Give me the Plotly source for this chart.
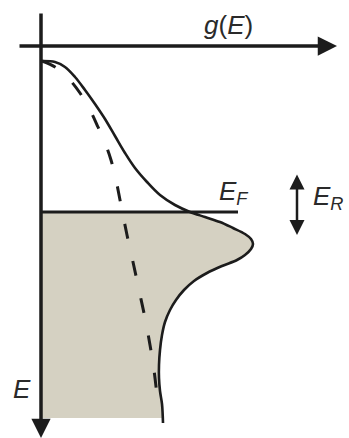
import numpy as np
import plotly.graph_objects as go

# Density of states g(E); energy E increases downward along the vertical axis.
# Interacting (solid) DOS with a resonance just below the Fermi level.
g_solid = [0.01, 0.14, 0.24, 0.34, 0.44, 0.54, 0.64, 0.74, 0.84, 0.94, 1.06,
           1.19, 1.34, 1.49, 1.64, 1.79, 1.92, 2.04, 2.10, 2.12, 2.10, 2.04,
           1.96, 1.81, 1.66, 1.53, 1.43, 1.35, 1.29, 1.24, 1.21, 1.19, 1.18,
           1.18, 1.19, 1.21, 1.22]
E_solid = [0.15, 0.16, 0.21, 0.31, 0.44, 0.58, 0.73, 0.90, 1.07, 1.22, 1.36,
           1.49, 1.59, 1.66, 1.71, 1.76, 1.82, 1.88, 1.93, 1.98, 2.03, 2.09,
           2.14, 2.20, 2.27, 2.35, 2.44, 2.54, 2.64, 2.76, 2.89, 3.04, 3.19,
           3.32, 3.45, 3.58, 3.77]

# Free-electron (dashed) DOS
g_free = [0.01, 0.14, 0.27, 0.39, 0.49, 0.57, 0.64, 0.70, 0.75, 0.80, 0.86, 0.92,
          0.98, 1.04, 1.09, 1.13, 1.17]
E_free = [0.15, 0.21, 0.32, 0.47, 0.64, 0.81, 0.97, 1.14, 1.34, 1.59, 1.89, 2.16,
          2.44, 2.72, 2.99, 3.24, 3.59]

E_fermi = 1.66          # Fermi level
E_fill_bottom = 3.72    # lower edge of the occupied band
g_fermi_end = 1.97      # right end of the E_F line
E_res = [1.27, 1.89]    # extent of the E_R resonance arrow
g_res = 2.56

ink = "#1c1c1c"
fill_col = "#d5d1c2"
font_fam = "Liberation Sans, Arial, sans-serif"

fig = go.Figure()

# Occupied states: area between the E axis and the solid DOS, from E_F down
# to the flat lower edge of the band
Es = np.array(E_solid)
gs = np.array(g_solid)
mask = (Es > E_fermi) & (Es < E_fill_bottom)
E_poly = np.concatenate([[E_fermi], [E_fermi], Es[mask], [E_fill_bottom], [E_fill_bottom]])
g_poly = np.concatenate([[0.0], [np.interp(E_fermi, Es, gs)], gs[mask],
                         [np.interp(E_fill_bottom, Es, gs)], [0.0]])
fig.add_trace(go.Scatter(x=g_poly, y=E_poly, fill="toself", fillcolor=fill_col,
                         line=dict(width=0), mode="lines", hoverinfo="skip"))

# Fermi level
fig.add_trace(go.Scatter(x=[0, g_fermi_end], y=[E_fermi, E_fermi], mode="lines",
                         line=dict(color=ink, width=3)))

# Free-electron DOS
fig.add_trace(go.Scatter(x=g_free, y=E_free, mode="lines",
                         line=dict(color=ink, width=3, dash="15px,23px", shape="spline")))

# Interacting DOS
fig.add_trace(go.Scatter(x=g_solid, y=E_solid, mode="lines",
                         line=dict(color=ink, width=2.6, shape="spline")))

# Axes drawn as arrows
fig.add_annotation(x=2.96, y=0.0, ax=-0.23, ay=0.0, xref="x", yref="y",
                   axref="x", ayref="y", showarrow=True, text="",
                   arrowhead=2, arrowsize=1.1, arrowwidth=3.5, arrowcolor=ink)
fig.add_annotation(x=0.0, y=3.92, ax=0.0, ay=-0.34, xref="x", yref="y",
                   axref="x", ayref="y", showarrow=True, text="",
                   arrowhead=2, arrowsize=1.1, arrowwidth=3.5, arrowcolor=ink)

# E_R double arrow
fig.add_annotation(x=g_res, y=E_res[1], ax=g_res, ay=E_res[0], xref="x", yref="y",
                   axref="x", ayref="y", showarrow=True, text="",
                   arrowhead=2, startarrowhead=2, arrowside="end+start",
                   arrowsize=1.2, startarrowsize=1.2, arrowwidth=2.5, arrowcolor=ink)

txt = dict(family=font_fam, size=26, color="#2a2a2a")
fig.add_annotation(x=1.87, y=-0.21, xref="x", yref="y", text="<i>g</i>(<i>E</i>)",
                   showarrow=False, font=txt)
fig.add_annotation(x=1.76, y=1.46, xref="x", yref="y", xanchor="left",
                   text="<i>E<sub>F</sub></i>", showarrow=False, font=txt)
fig.add_annotation(x=2.70, y=1.51, xref="x", yref="y", xanchor="left",
                   text="<i>E<sub>R</sub></i>", showarrow=False, font=txt)
fig.add_annotation(x=-0.30, y=3.43, xref="x", yref="y", xanchor="left",
                   text="<i>E</i>", showarrow=False, font=txt)

fig.update_xaxes(range=[-0.41, 3.08], visible=False, fixedrange=True)
fig.update_yaxes(range=[3.92, -0.46], visible=False, fixedrange=True)
fig.update_layout(width=349, height=438, margin=dict(l=0, r=0, t=0, b=0),
                  paper_bgcolor="white", plot_bgcolor="white", showlegend=False)

fig.write_html("out.html")
